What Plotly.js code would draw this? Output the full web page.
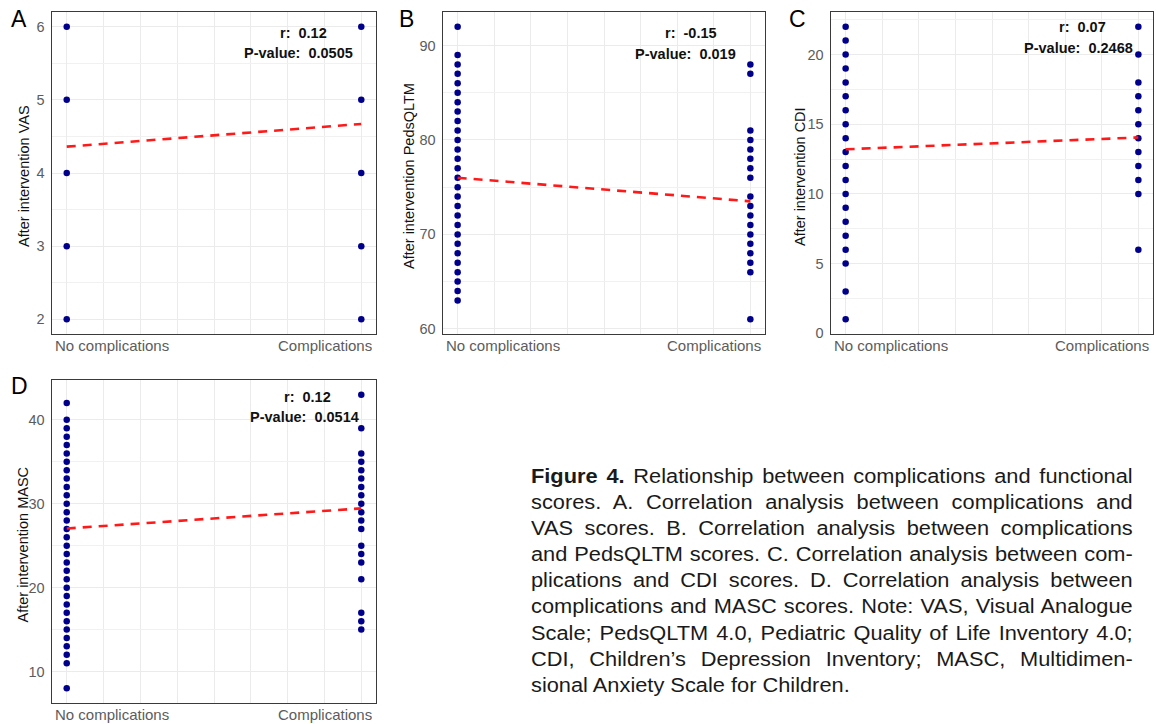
<!DOCTYPE html>
<html>
<head>
<meta charset="utf-8">
<script src="https://cdn.plot.ly/plotly-3.0.1.min.js"></script>
<style>
  html, body { margin: 0; padding: 0; background: #fff; }
  #wrap { position: relative; width: 1156px; height: 724px; overflow: hidden; }
  #chart { position: absolute; left: 0; top: 0; width: 1156px; height: 724px; }
  #caption { position: absolute; left: 531px; top: 463px; width: 552px;
    transform: scaleX(1.09); transform-origin: left top;
    font-family: "Liberation Sans", Arial, sans-serif;
    font-size: 20px; line-height: 26.1px; color: #1a1a1a; }
  #caption .ln { text-align: justify; text-align-last: justify; white-space: nowrap; }
  #caption .last { text-align: left; text-align-last: left; }
</style>
</head>
<body>
<div id="wrap">
  <div id="chart"></div>
  <div id="caption"></div>
</div>
<script>
// ---------------- DATA ----------------
const groupLabels = ['No complications', 'Complications'];
const groupX = [0, 1];

const panelLetters = ['A', 'B', 'C', 'D'];
const yTitles = ['After intervention VAS', 'After intervention PedsQLTM', 'After intervention CDI', 'After intervention MASC'];
const rValues = ['0.12', '-0.15', '0.07', '0.12'];
const pValues = ['0.0505', '0.019', '0.2468', '0.0514'];

// A: VAS
const vasNoComp = [2, 3, 4, 5, 6];
const vasComp = [2, 3, 4, 5, 6];
const vasFit = [4.36, 4.67];

// B: PedsQLTM
const pedsNoComp = [92, 89, 88, 87, 86, 85, 84, 83, 82, 81, 80, 79, 78, 77, 76, 75, 74, 73, 72, 71, 70, 69, 68, 67, 66, 65, 64, 63];
const pedsComp = [88, 87, 81, 80, 79, 78, 77, 76, 74, 73, 72, 71, 70, 69, 68, 67, 66, 61];
const pedsFit = [76.0, 73.5];

// C: CDI
const cdiNoComp = [22, 21, 20, 19, 18, 17, 16, 15, 14, 13, 12, 11, 10, 9, 8, 7, 6, 5, 3, 1];
const cdiComp = [22, 20, 18, 17, 16, 15, 14, 13, 12, 11, 10, 6];
const cdiFit = [13.2, 14.05];

// D: MASC
const mascNoComp = [42, 40, 39, 38, 37, 36, 35, 34, 33, 32, 31, 30, 29, 28, 27, 26, 25, 24, 23, 22, 21, 20, 19, 18, 17, 16, 15, 14, 13, 12, 11, 8];
const mascComp = [43, 39, 36, 35, 34, 33, 32, 31, 30, 29, 28, 27, 25, 24, 23, 21, 17, 16, 15];
const mascFit = [27.05, 29.45];

const yDticks = [1, 10, 5, 10];

const captionLines = [
  ['Figure 4.', ' Relationship between complications and functional'],
  ['', 'scores. A. Correlation analysis between complications and'],
  ['', 'VAS scores. B. Correlation analysis between complications'],
  ['', 'and PedsQLTM scores. C. Correlation analysis between com-'],
  ['', 'plications and CDI scores. D. Correlation analysis between'],
  ['', 'complications and MASC scores. Note: VAS, Visual Analogue'],
  ['', 'Scale; PedsQLTM 4.0, Pediatric Quality of Life Inventory 4.0;'],
  ['', 'CDI, Children\u2019s Depression Inventory; MASC, Multidimen-'],
  ['', 'sional Anxiety Scale for Children.']
];

// ---------------- LAYOUT ----------------
const W = 1156, H = 724;
// panel boxes in pixels: [left, right, top, bottom]
const boxes = [
  [52, 376, 12, 334],
  [443, 765, 12, 334],
  [831, 1153, 12, 334],
  [52, 376, 380, 703]
];
const titleX = [24, 409, 800, 22];
const letterX = [9, 397, 787, 9];
const letterY = [19, 19, 19, 386];
const statPX = [298, 685, 1078, 304];
const statRX = [303, 691, 1082, 308];
const statY = [[33, 53], [33, 54], [27, 48], [397, 417]];

const series = [
  [vasNoComp, vasComp, vasFit],
  [pedsNoComp, pedsComp, pedsFit],
  [cdiNoComp, cdiComp, cdiFit],
  [mascNoComp, mascComp, mascFit]
];

const traces = [];
const layout = {
  width: W, height: H,
  margin: {l: 0, r: 0, t: 0, b: 0},
  paper_bgcolor: '#ffffff', plot_bgcolor: '#ffffff',
  showlegend: false,
  font: {family: 'Liberation Sans, Arial, sans-serif', color: '#000'},
  annotations: []
};

series.forEach((s, i) => {
  const n = i === 0 ? '' : String(i + 1);
  const xa = 'x' + n, ya = 'y' + n;
  const [noC, comp, fit] = s;
  traces.push({x: noC.map(() => groupX[0]), y: noC, xaxis: xa, yaxis: ya, type: 'scatter', mode: 'markers',
    marker: {color: '#00008b', size: 6.5}, hoverinfo: 'skip'});
  traces.push({x: comp.map(() => groupX[1]), y: comp, xaxis: xa, yaxis: ya, type: 'scatter', mode: 'markers',
    marker: {color: '#00008b', size: 6.5}, hoverinfo: 'skip'});
  traces.push({x: groupX, y: fit, xaxis: xa, yaxis: ya, type: 'scatter', mode: 'lines',
    line: {color: '#ff1a1a', width: 2.6, dash: '9px,7px'}, hoverinfo: 'skip'});

  const all = noC.concat(comp);
  const mn = Math.min(...all), mx = Math.max(...all);
  const pad = (mx - mn) * 0.05;
  const b = boxes[i];
  layout['xaxis' + n] = {
    domain: [b[0] / W, b[1] / W], anchor: ya,
    range: [-0.05, 1.05], tickmode: 'array', tickvals: groupX, showticklabels: false, ticks: '',
    showgrid: true, gridcolor: '#ebebeb', gridwidth: 1,
    minor: {tickmode: 'linear', tick0: 0, dtick: 0.125, showgrid: true, gridcolor: '#ebebeb', gridwidth: 1},
    zeroline: false, showline: true, mirror: true, linecolor: '#3a3a3a', linewidth: 1.4, fixedrange: true
  };
  layout['yaxis' + n] = {
    domain: [1 - b[3] / H, 1 - b[2] / H], anchor: xa,
    range: [mn - pad, mx + pad], tickmode: 'linear', tick0: 0, dtick: yDticks[i], ticks: '',
    tickfont: {size: 14.5, color: '#5c5c5c', family: 'Liberation Sans, Arial, sans-serif'},
    ticklabelstandoff: 3,
    showgrid: true, gridcolor: '#ebebeb', gridwidth: 1,
    minor: {tickmode: 'linear', tick0: 0, dtick: yDticks[i] / 2, showgrid: true, gridcolor: '#f1f1f1', gridwidth: 1},
    zeroline: false, showline: true, mirror: true, linecolor: '#3a3a3a', linewidth: 1.4, fixedrange: true
  };

  // x group labels (left / right aligned like the reference)
  layout.annotations.push({text: groupLabels[0], xref: 'paper', yref: 'paper', x: (b[0] + 1) / W, y: 1 - (b[3] + 11) / H,
    xanchor: 'left', yanchor: 'middle', showarrow: false, font: {size: 15, color: '#5c5c5c'}});
  layout.annotations.push({text: groupLabels[1], xref: 'paper', yref: 'paper', x: (b[1] - 2) / W, y: 1 - (b[3] + 11) / H,
    xanchor: 'right', yanchor: 'middle', showarrow: false, font: {size: 15, color: '#5c5c5c'}});
  // y title
  layout.annotations.push({text: yTitles[i], xref: 'paper', yref: 'paper', x: titleX[i] / W, y: 1 - ((b[2] + b[3]) / 2 + 3) / H,
    xanchor: 'center', yanchor: 'middle', textangle: -90, showarrow: false, font: {size: 14.5, color: '#111'}});
  // panel letter
  layout.annotations.push({text: panelLetters[i], xref: 'paper', yref: 'paper', x: letterX[i] / W, y: 1 - letterY[i] / H,
    xanchor: 'left', yanchor: 'middle', showarrow: false, font: {size: 23, color: '#000'}});
  // statistics
  layout.annotations.push({text: '<b>r: \u00a0' + rValues[i] + '</b>', xref: 'paper', yref: 'paper', x: statRX[i] / W, y: 1 - statY[i][0] / H,
    xanchor: 'center', yanchor: 'middle', showarrow: false, font: {size: 14.5, color: '#111'}});
  layout.annotations.push({text: '<b>P-value: \u00a0' + pValues[i] + '</b>', xref: 'paper', yref: 'paper', x: statPX[i] / W, y: 1 - statY[i][1] / H,
    xanchor: 'center', yanchor: 'middle', showarrow: false, font: {size: 14.5, color: '#111'}});
});

Plotly.newPlot('chart', traces, layout, {displayModeBar: false, staticPlot: true});

// caption
const cap = document.getElementById('caption');
captionLines.forEach((ln, k) => {
  const d = document.createElement('div');
  d.className = 'ln' + (k === captionLines.length - 1 ? ' last' : '');
  if (ln[0]) {
    const bEl = document.createElement('b');
    bEl.textContent = ln[0];
    d.appendChild(bEl);
  }
  d.appendChild(document.createTextNode(ln[1]));
  cap.appendChild(d);
});
</script>
</body>
</html>
